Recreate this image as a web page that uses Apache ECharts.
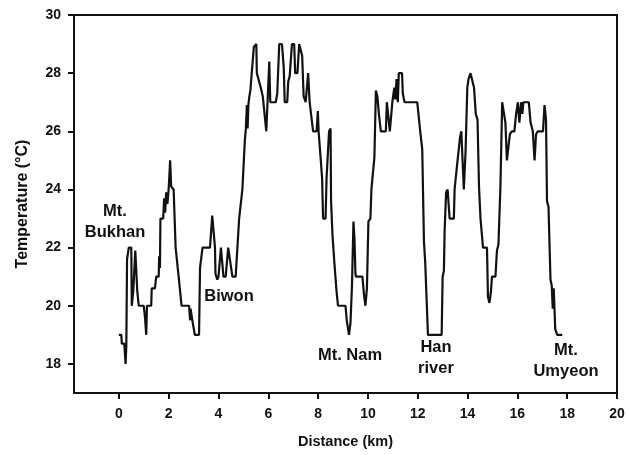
<!DOCTYPE html>
<html>
<head>
<meta charset="utf-8">
<script src="https://cdn.jsdelivr.net/npm/echarts@6/dist/echarts.min.js"></script>
<style>
html,body{margin:0;padding:0;background:#fff;}
#c{width:628px;height:455px;}
</style>
</head>
<body>
<div id="c"></div>
<script>
// distance (km)
var distance = [0.0,0.1,0.12,0.22,0.27,0.3,0.33,0.4,0.5,0.52,0.58,0.66,0.7,0.74,0.8,1.0,1.05,1.1,1.13,1.3,1.32,1.45,1.5,1.6,1.62,1.65,1.67,1.78,1.82,1.86,1.9,1.95,2.0,2.06,2.1,2.2,2.28,2.4,2.52,2.82,2.86,2.88,2.95,3.05,3.22,3.26,3.36,3.66,3.75,3.86,3.88,3.95,4.0,4.06,4.1,4.16,4.2,4.29,4.39,4.46,4.56,4.69,4.76,4.83,4.9,4.96,5.02,5.06,5.1,5.14,5.17,5.2,5.24,5.28,5.42,5.52,5.54,5.62,5.7,5.78,5.92,6.04,6.08,6.3,6.36,6.44,6.55,6.62,6.66,6.76,6.8,6.86,6.95,7.04,7.08,7.17,7.24,7.3,7.36,7.42,7.5,7.56,7.6,7.66,7.74,7.8,7.94,7.99,8.02,8.1,8.16,8.2,8.3,8.34,8.44,8.5,8.52,8.58,8.66,8.74,8.8,9.1,9.15,9.24,9.3,9.36,9.42,9.46,9.5,9.52,9.78,9.84,9.9,9.96,10.02,10.1,10.14,10.2,10.26,10.32,10.38,10.44,10.52,10.72,10.76,10.84,10.88,10.98,11.06,11.1,11.15,11.2,11.24,11.37,11.4,11.47,11.98,12.1,12.18,12.25,12.3,12.41,12.96,13.0,13.05,13.08,13.14,13.2,13.24,13.28,13.45,13.48,13.55,13.6,13.66,13.7,13.75,13.8,13.85,13.92,13.99,14.04,14.12,14.2,14.26,14.33,14.4,14.46,14.52,14.62,14.78,14.82,14.88,14.94,14.98,15.12,15.18,15.24,15.32,15.39,15.46,15.52,15.58,15.65,15.7,15.78,15.88,15.95,16.02,16.08,16.15,16.2,16.24,16.46,16.53,16.62,16.69,16.75,16.82,17.03,17.09,17.15,17.19,17.25,17.33,17.38,17.42,17.46,17.49,17.52,17.6,17.8];
// temperature (°C)
var temperature = [19,19,18.7,18.7,18,18.6,21.6,22,22,20,20.5,21.9,21.9,20.5,20,20,19.6,19,20,20,20.6,20.6,21,21,21.7,21.3,23,23,23.7,23.2,23.9,23.5,24,25,24.1,24,22,21,20,20,19.5,19.9,19.5,19,19,21.3,22,22,23.1,22,21.1,20.9,21,21,22,22,21,21,22,22,21,21,22,23,23,24,24,25.7,26.1,26.9,26.1,26.9,27.2,27.4,28.9,29,28,28,27.5,27.2,26,28.4,27,27,27.3,29,29,28.2,27,27,27.7,27.9,29,29,28,28,29,29,28.6,27.2,27,27,28,27,27,26,26,26.7,26,25.1,24.4,23,23,24.4,26,26.1,23.6,22.4,21.4,20.5,20,20,19.5,19,19.4,20.7,22.9,22.3,21.1,21,21,20.4,20,20.6,22.9,23,24,24,25.1,27.4,27.2,26.6,26,26,27,27,26,27,27.5,27.1,27.8,27,28,28,27.3,27,27,26,25.4,22.2,21.5,19,19,21,21.2,22.6,23.9,24,23.5,23,23,24,24.6,25,25,25.8,26,25,24,25.3,27.5,27.8,28,28,27.5,26.6,26.4,24.1,23,22,22,20.3,20.1,20.5,21,21,21.9,22.1,24.1,27,27,26.3,25,25,25.9,26,26,26.6,27,26.3,27,26.6,27,27,26.3,26,25,25.9,26,26,26.9,26.4,23.6,23.4,20.9,20.7,19.9,20.6,20.6,19.2,19,19];
var xTicks = [0,2,4,6,8,10,12,14,16,18,20];
var yTicks = [18,20,22,24,26,28,30];
var siteLabels = ['Mt.\nBukhan','Biwon','Mt. Nam','Han\nriver','Mt.\nUmyeon'];

var pts = distance.map(function(d,i){return [d, temperature[i]];});
var chart = echarts.init(document.getElementById('c'), null, {renderer:'canvas'});
var F = '"Liberation Sans", Arial, sans-serif';
var lblStyle = {fontFamily:F, fontWeight:'bold', fontSize:16.5, fill:'#111', textAlign:'center', textVerticalAlign:'middle', lineHeight:21};
chart.setOption({
  animation:false,
  backgroundColor:'#fff',
  grid:{left:74, right:11, top:15, bottom:62, show:true, borderColor:'#111', borderWidth:2},
  xAxis:{
    type:'value', min:-1.8, max:20,
    axisLine:{show:true, onZero:false, lineStyle:{color:'#111', width:2}},
    axisTick:{show:true, length:6, customValues:xTicks, lineStyle:{color:'#111', width:2}},
    axisLabel:{customValues:xTicks, color:'#111', fontFamily:F, fontWeight:'bold', fontSize:14, margin:14},
    splitLine:{show:false},
    name:'Distance (km)', nameLocation:'middle', nameGap:41,
    nameTextStyle:{color:'#111', fontFamily:F, fontWeight:'bold', fontSize:14.5}
  },
  yAxis:{
    type:'value', min:17, max:30,
    axisLine:{show:true, onZero:false, lineStyle:{color:'#111', width:2}},
    axisTick:{show:true, length:6, customValues:yTicks, lineStyle:{color:'#111', width:2}},
    axisLabel:{customValues:yTicks, color:'#111', fontFamily:F, fontWeight:'bold', fontSize:14, margin:13},
    splitLine:{show:false},
    name:'Temperature (°C)', nameLocation:'middle', nameGap:43, nameRotate:90,
    nameTextStyle:{color:'#111', fontFamily:F, fontWeight:'bold', fontSize:16}
  },
  series:[{
    type:'line', data:pts, symbol:'none', smooth:false,
    lineStyle:{color:'#111', width:2.2}
  }],
  graphic:[
    {type:'text', x:115, y:222, style:Object.assign({text:siteLabels[0]}, lblStyle)},
    {type:'text', x:229, y:296, style:Object.assign({text:siteLabels[1]}, lblStyle)},
    {type:'text', x:350, y:355, style:Object.assign({text:siteLabels[2]}, lblStyle)},
    {type:'text', x:436, y:358, style:Object.assign({text:siteLabels[3]}, lblStyle)},
    {type:'text', x:566, y:361, style:Object.assign({text:siteLabels[4]}, lblStyle)}
  ]
});
</script>
</body>
</html>
